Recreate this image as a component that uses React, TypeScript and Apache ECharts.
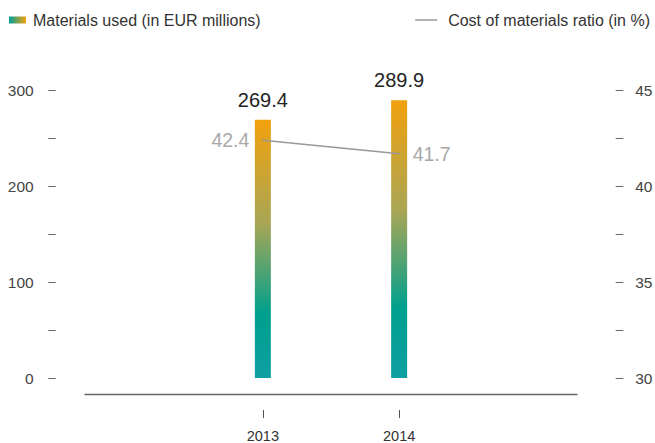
import React, { useEffect, useRef } from "react";
import * as echarts from "echarts";

const years = [2013, 2014];
const materialsUsed = [269.4, 289.9];
const materialsRatio = [42.4, 41.7];
const ratioLabelSides = ["left", "right"];
const leftTicks = { min: 0, max: 300, interval: 50, labelStep: 100 };
const rightTicks = { min: 30, max: 45, interval: 2.5, labelStep: 5 };
const seriesNames = ["Materials used (in EUR millions)", "Cost of materials ratio (in %)"];

const FONT = "'Liberation Sans', Arial, Helvetica, sans-serif";

export default function App() {
  const ref = useRef<HTMLDivElement>(null);
  useEffect(() => {
    if (!ref.current) return;
    const chart = echarts.init(ref.current, null, { renderer: "svg" });
    const barGradient = new echarts.graphic.LinearGradient(0, 0, 0, 1, [
      { offset: 0, color: "#f2a10e" },
      { offset: 0.4, color: "#a9a655" },
      { offset: 0.75, color: "#00a08e" },
      { offset: 1, color: "#0e9fa2" },
    ]);
    const legendGradient = new echarts.graphic.LinearGradient(0, 0, 1, 0, [
      { offset: 0, color: "#009f9a" },
      { offset: 1, color: "#f2a10e" },
    ]);
    const option: any = {
      animation: false,
      textStyle: { fontFamily: FONT },
      grid: { left: 85, right: 78, top: 90.5, bottom: 65, containLabel: false, outerBoundsMode: "none" },
      legend: [
        {
          left: 4,
          top: 7,
          itemWidth: 17,
          itemHeight: 7,
          icon: "rect",
          textStyle: { color: "#333", fontSize: 16, fontFamily: FONT, padding: [0, 0, 0, 2] },
          data: [{ name: seriesNames[0], itemStyle: { color: legendGradient } }],
        },
        {
          right: 0,
          top: 7,
          itemWidth: 22,
          itemHeight: 1.5,
          icon: "rect",
          textStyle: { color: "#333", fontSize: 16, fontFamily: FONT, padding: [0, 0, 0, 6] },
          data: [{ name: seriesNames[1], icon: "rect", itemStyle: { color: "#999" } }],
        },
      ],
      xAxis: [
        {
          type: "value",
          position: "bottom",
          min: 2011.695,
          max: 2015.305,
          offset: 16,
          splitLine: { show: false },
          axisLine: { show: true, onZero: false, lineStyle: { color: "#666", width: 1.3 } },
          axisTick: { show: false },
          axisLabel: { show: false },
        },
        {
          type: "value",
          position: "bottom",
          min: 2011.695,
          max: 2015.305,
          offset: 32,
          splitLine: { show: false },
          axisLine: { show: false, onZero: false },
          axisTick: { show: true, length: 8, customValues: years, lineStyle: { color: "#555" } },
          axisLabel: {
            show: true,
            customValues: years,
            margin: 18,
            color: "#333",
            fontSize: 14.5,
            fontFamily: FONT,
            formatter: (v: number) => String(v),
          },
        },
      ],
      yAxis: [
        {
          type: "value",
          position: "left",
          min: leftTicks.min,
          max: leftTicks.max,
          interval: leftTicks.interval,
          offset: 29.3,
          splitLine: { show: false },
          axisLine: { show: false },
          axisTick: { show: true, length: 7.4, lineStyle: { color: "#666" } },
          axisLabel: {
            margin: 22,
            color: "#444",
            fontSize: 15.5,
            fontFamily: FONT,
            formatter: (v: number) => (v % leftTicks.labelStep === 0 ? String(v) : ""),
          },
        },
        {
          type: "value",
          position: "right",
          min: rightTicks.min,
          max: rightTicks.max,
          interval: rightTicks.interval,
          offset: 38.7,
          splitLine: { show: false },
          axisLine: { show: false },
          axisTick: { show: true, length: 7.6, lineStyle: { color: "#666" } },
          axisLabel: {
            margin: 19.5,
            color: "#444",
            fontSize: 15.5,
            fontFamily: FONT,
            formatter: (v: number) => (v % rightTicks.labelStep === 0 ? String(v) : ""),
          },
        },
      ],
      series: [
        {
          name: seriesNames[0],
          type: "bar",
          xAxisIndex: 0,
          yAxisIndex: 0,
          barWidth: 16,
          itemStyle: { color: barGradient },
          label: {
            show: true,
            position: "top",
            distance: 10,
            color: "#222",
            fontSize: 20,
            fontFamily: FONT,
            formatter: (p: any) => p.value[1].toFixed(1),
          },
          data: years.map((y, i) => [y, materialsUsed[i]]),
        },
        {
          name: seriesNames[1],
          type: "line",
          xAxisIndex: 0,
          yAxisIndex: 1,
          symbol: "circle",
          symbolSize: 1,
          showSymbol: true,
          itemStyle: { color: "#999" },
          lineStyle: { color: "#999", width: 1.5 },
          label: {
            show: true,
            distance: 13,
            color: "#a8a8a8",
            fontSize: 19.5,
            fontFamily: FONT,
            formatter: (p: any) => p.value[1].toFixed(1),
          },
          data: years.map((y, i) => ({
            value: [y, materialsRatio[i]],
            label: { position: ratioLabelSides[i] },
          })),
        },
      ],
    };
    chart.setOption(option);
    return () => chart.dispose();
  }, []);
  return (
    <div
      ref={ref}
      style={{ position: "fixed", left: 0, top: 0, width: 655, height: 443, background: "#fff" }}
    />
  );
}
